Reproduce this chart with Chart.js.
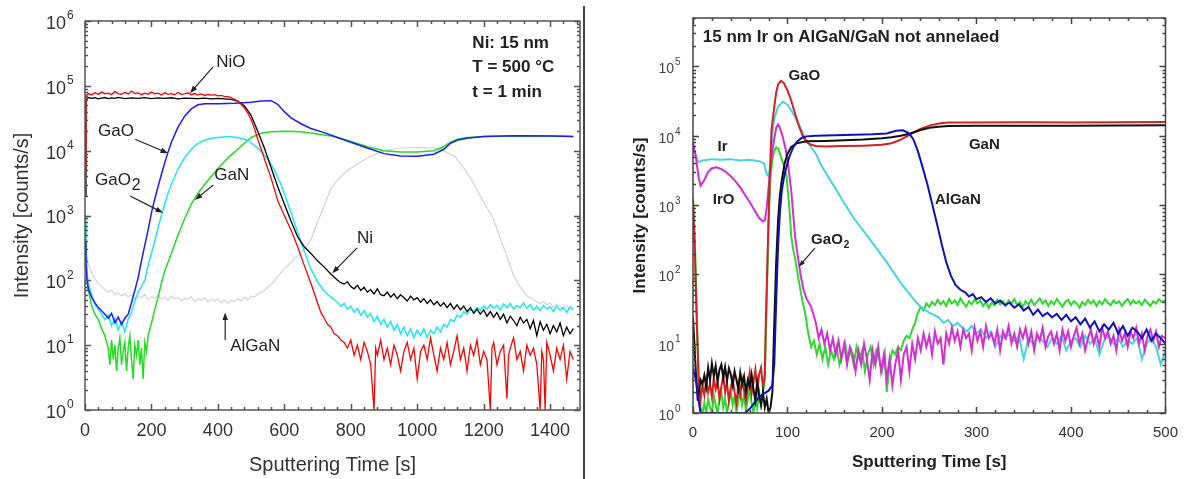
<!DOCTYPE html>
<html>
<head>
<meta charset="utf-8">
<script src="https://cdn.jsdelivr.net/npm/chart.js@4.4.1/dist/chart.umd.min.js"></script>
<style>
  body { margin: 0; background: #fff; }
  #wrap { position: relative; width: 1189px; height: 479px; overflow: hidden; }
  #left { position: absolute; left: 0; top: 0; }
  #right { position: absolute; left: 590px; top: 0; }
  #sep { position: absolute; left: 583px; top: 6px; width: 2px; height: 473px; background: #444; }
</style>
</head>
<body>
<div id="wrap">
  <canvas id="left" width="584" height="479"></canvas>
  <div id="sep"></div>
  <canvas id="right" width="599" height="479"></canvas>
</div>
<script>
// ---------- left panel: Ni 15 nm, 500 °C, 1 min  ([time s, counts/s]) ----------
const leftNiO = [[0,5000],[3,70000],[10,76000],[20,73000],[30,78000],[40,74000],[50,80000],[60,75000],[70,77000],[80,73000],[90,82000],[100,76000],[110,74000],[120,79000],[130,75000],[140,83000],[150,76000],[160,78000],[170,73000],[180,77000],[190,74000],[200,80000],[210,75000],[220,77000],[230,72000],[240,78000],[250,74000],[260,76000],[270,73000],[280,79000],[290,74000],[300,75000],[310,78000],[320,73000],[330,76000],[340,72000],[350,75000],[360,71000],[370,74000],[380,72000],[390,73000],[400,70000],[410,71000],[420,69000],[430,68000],[440,66000],[450,62000],[460,58000],[470,52000],[480,46000],[490,38000],[500,30000],[510,22000],[520,15000],[540,7500],[560,3800],[580,1700],[600,1000],[620,600],[640,330],[660,170],[680,90],[700,45],[710,32],[720,26],[730,21],[740,19],[750,15],[760,14],[770,12],[780,11],[790,9],[800,12],[810,7],[820,10],[830,6],[840,11],[850,8],[860,5],[870,1],[875,9],[880,7],[890,12],[900,6],[910,9],[920,5],[930,10],[940,7],[950,4],[960,8],[970,11],[980,6],[990,9],[1000,3],[1010,8],[1020,10],[1030,6],[1040,13],[1050,7],[1060,4],[1070,9],[1080,6],[1090,11],[1100,5],[1110,8],[1120,14],[1130,6],[1140,9],[1150,4],[1160,10],[1170,7],[1180,12],[1190,5],[1200,8],[1210,6],[1220,1],[1225,9],[1230,11],[1240,5],[1250,8],[1260,10],[1270,1.5],[1275,7],[1280,9],[1290,13],[1300,6],[1310,8],[1320,4],[1330,10],[1340,7],[1350,9],[1360,5],[1370,1],[1375,8],[1380,6],[1385,1],[1390,11],[1400,7],[1410,4],[1420,9],[1430,6],[1440,10],[1450,3],[1460,8],[1470,6]];
const leftNi = [[0,2000],[3,60000],[10,66000],[20,64000],[30,65500],[40,63000],[50,64500],[60,66000],[70,63500],[80,65000],[90,64000],[100,66500],[120,63500],[140,65000],[160,64000],[180,66000],[200,63500],[220,65000],[240,64000],[260,65500],[280,63000],[300,64500],[320,64000],[340,63500],[360,64500],[380,63000],[400,64000],[420,63000],[440,62000],[460,58000],[480,49000],[500,35000],[520,20000],[540,11000],[560,5500],[580,2800],[600,1500],[620,820],[640,470],[660,330],[680,260],[700,200],[720,160],[740,125],[760,100],[770,92],[780,88],[790,95],[800,80],[810,74],[820,84],[830,70],[840,78],[850,66],[860,72],[870,62],[880,74],[890,60],[900,58],[910,66],[920,55],[930,62],[940,52],[950,60],[960,54],[970,48],[980,57],[990,50],[1000,54],[1010,46],[1020,52],[1030,44],[1040,50],[1050,42],[1060,47],[1070,40],[1080,45],[1090,38],[1100,44],[1110,36],[1120,42],[1130,35],[1140,40],[1150,33],[1160,38],[1170,31],[1180,36],[1190,30],[1200,35],[1210,28],[1220,33],[1230,27],[1240,32],[1250,25],[1260,30],[1270,22],[1280,28],[1290,24],[1300,20],[1310,27],[1320,22],[1330,25],[1340,18],[1350,24],[1360,14],[1370,23],[1380,17],[1390,21],[1400,15],[1410,20],[1420,16],[1430,22],[1440,14],[1450,19],[1460,15],[1470,18]];
const leftGaO = [[0,400],[3,180],[6,100],[10,75],[20,55],[30,45],[40,38],[50,34],[60,30],[70,26],[80,31],[90,22],[100,27],[110,21],[120,26],[130,30],[140,45],[150,70],[160,110],[170,200],[180,350],[190,600],[200,1100],[210,1800],[220,2800],[230,4300],[240,6500],[250,9500],[260,13500],[280,23000],[300,34000],[320,44000],[340,51000],[360,53000],[400,53000],[450,54000],[500,56000],[530,58500],[560,59000],[580,52000],[600,40000],[620,32000],[650,26000],[680,22000],[720,19000],[760,16000],[800,13500],[850,11000],[900,9000],[950,8300],[1000,8200],[1050,8800],[1080,10500],[1100,13000],[1120,14500],[1150,15500],[1200,16500],[1300,17000],[1400,16800],[1470,16500]];
const leftGaO2 = [[0,1000],[3,300],[6,130],[10,90],[20,60],[30,42],[40,36],[50,30],[60,25],[70,29],[80,20],[90,26],[100,17],[110,23],[120,16],[130,25],[140,32],[150,48],[160,66],[170,80],[180,100],[190,170],[200,260],[210,400],[220,650],[230,1000],[240,1500],[250,2200],[260,3000],[280,5200],[300,7800],[320,10500],[340,13000],[360,14500],[380,15500],[400,16000],[430,16500],[460,16000],[490,14500],[520,11000],[550,7500],[570,5000],[590,3000],[600,2200],[620,1100],[640,550],[660,280],[680,150],[700,95],[720,68],[740,55],[760,46],[770,40],[780,44],[790,36],[800,40],[810,32],[820,37],[830,29],[840,34],[850,27],[860,31],[870,23],[880,28],[890,21],[900,25],[910,19],[920,23],[930,17],[940,21],[950,15],[960,19],[970,14],[980,18],[990,13],[1000,17],[1010,14],[1020,18],[1030,13],[1040,17],[1050,15],[1060,19],[1070,16],[1080,21],[1090,19],[1100,25],[1110,23],[1120,29],[1130,27],[1140,33],[1150,30],[1160,36],[1170,33],[1180,38],[1190,35],[1200,40],[1210,36],[1220,42],[1230,37],[1240,41],[1250,35],[1260,43],[1270,38],[1280,44],[1290,36],[1300,41],[1310,38],[1320,45],[1330,37],[1340,42],[1350,35],[1360,40],[1370,34],[1380,41],[1390,36],[1400,39],[1410,33],[1420,40],[1430,35],[1440,38],[1450,32],[1460,39],[1470,36]];
const leftGaN = [[0,800],[3,250],[6,110],[10,70],[20,40],[30,30],[40,25],[50,18],[60,14],[70,9],[75,5],[80,12],[85,6],[90,10],[95,4],[100,9],[105,13],[110,5],[115,8],[120,11],[125,4],[130,9],[135,14],[140,6],[145,3],[150,10],[155,7],[160,12],[165,5],[170,9],[175,3],[180,11],[185,8],[190,14],[200,22],[210,35],[220,55],[230,90],[240,140],[250,190],[260,260],[280,500],[300,900],[320,1500],[340,2200],[360,3000],[380,4000],[400,5300],[420,6800],[440,8600],[460,10500],[480,13000],[500,16000],[530,18500],[560,19500],[600,20000],[650,19500],[700,18000],[750,16500],[800,14000],[850,11500],[900,10000],[950,9500],[1000,9500],[1050,10000],[1080,11500],[1100,13500],[1120,15000],[1150,16000],[1200,16500],[1300,17000],[1400,16800],[1470,16500]];
const leftAlGaN = [[0,400],[5,250],[10,180],[20,130],[30,105],[40,90],[50,80],[60,72],[70,66],[80,70],[90,60],[100,64],[110,58],[120,62],[130,55],[140,60],[150,52],[160,58],[170,54],[180,61],[190,50],[200,56],[210,53],[220,59],[230,51],[240,55],[250,49],[260,57],[270,52],[280,55],[290,48],[300,53],[310,50],[320,56],[330,47],[340,52],[350,49],[360,54],[370,46],[380,51],[390,48],[400,52],[410,45],[420,50],[430,44],[440,49],[450,47],[460,52],[470,48],[480,55],[490,50],[500,57],[510,55],[520,62],[530,65],[540,70],[550,78],[560,85],[570,98],[580,115],[600,150],[620,190],[640,240],[660,300],[680,420],[700,800],[720,1400],[740,2600],[760,3500],[790,5000],[820,6300],[860,8200],[900,10000],[950,11000],[1000,11200],[1050,11000],[1080,10000],[1115,8000],[1145,5000],[1176,2750],[1200,1600],[1227,950],[1250,450],[1267,260],[1290,120],[1309,80],[1330,58],[1350,50],[1370,44],[1380,47],[1390,42],[1400,45],[1410,38],[1420,43],[1430,40],[1440,37],[1450,41],[1460,36],[1470,35]];

// ---------- right panel: 15 nm Ir on AlGaN/GaN ----------
const rightGaO = [[0,1200],[2,200],[4,20],[6,3],[8,1.5],[10,2.5],[12,1.8],[14,3],[16,2],[18,2.6],[20,1.7],[22,3.2],[24,2.2],[26,2.8],[28,1.6],[30,2.4],[32,3.5],[34,2],[36,2.7],[38,1.5],[40,2.3],[42,3.1],[44,2],[46,1.4],[48,2.6],[50,1.8],[52,3],[54,2.1],[56,1.5],[58,2.4],[60,3.8],[62,1.9],[64,2.8],[66,4.2],[68,2.2],[70,3.6],[72,4.5],[74,2.4],[76,3.5],[77,20],[79,200],[81,2000],[83,12000],[86,26000],[88,42000],[90,55000],[93,62000],[96,58000],[100,45000],[104,32000],[108,21000],[112,14000],[116,10000],[120,8200],[125,7400],[130,7100],[140,7000],[160,7100],[180,7200],[200,7400],[210,7800],[220,8800],[230,10500],[240,12500],[250,14000],[260,15000],[270,15500],[300,15500],[350,15600],[400,15500],[450,15600],[500,15800]];
const rightGaN = [[0,24],[3,4],[5,1.5],[8,3],[10,2.6],[12,3.5],[14,2.4],[16,4.5],[18,3],[20,5.2],[22,3.4],[24,4.8],[26,2.8],[28,4.2],[30,5],[32,3.2],[34,4.6],[36,2.9],[38,4.4],[40,3.6],[42,2.5],[44,4],[46,3],[48,2.2],[50,3.8],[52,2.6],[54,3.4],[56,2],[58,3],[60,2.4],[62,3.6],[64,2.2],[66,1.5],[68,2.8],[70,1.8],[72,1.3],[74,2],[76,1.2],[78,1.6],[80,1],[82,1.2],[84,2],[86,20],[88,150],[90,600],[92,1400],[94,2300],[97,4000],[100,5500],[104,6900],[110,7800],[120,8300],[140,8400],[160,8600],[180,8800],[200,9200],[210,9500],[220,10000],[230,10800],[240,12000],[250,13000],[260,13500],[270,13800],[300,14000],[400,14000],[500,14200]];
const rightAlGaN = [[0,4.5],[3,3],[6,1.5],[8,1],[10,1],[55,1],[60,1.15],[65,1.4],[70,1.7],[75,1.9],[80,2.1],[84,2.5],[86,5],[88,40],[90,250],[92,800],[94,1600],[96,2400],[98,3200],[102,5000],[106,6800],[110,8200],[115,9300],[120,9800],[130,10000],[150,10200],[170,10300],[190,10500],[205,10800],[215,11800],[222,12000],[228,11000],[233,9000],[238,6000],[243,3500],[248,2000],[253,1050],[258,550],[263,280],[268,150],[273,95],[278,70],[283,60],[288,55],[292,48],[296,52],[300,44],[305,47],[310,40],[315,45],[320,38],[325,42],[330,36],[335,39],[340,33],[345,37],[350,30],[355,34],[360,26],[365,31],[370,25],[375,28],[380,24],[385,27],[390,22],[395,26],[400,21],[405,24],[410,19],[415,23],[420,17],[425,21],[430,15],[435,19],[440,16],[445,20],[450,14],[455,18],[460,13],[465,17],[470,15],[475,12],[480,16],[485,11],[490,14],[495,12],[500,10]];
const rightIr = [[0,6000],[2,5800],[4,4500],[6,4200],[10,4400],[20,4600],[30,4500],[40,4600],[50,4400],[60,4500],[70,4300],[75,4000],[78,2800],[80,2600],[82,4000],[84,10000],[86,18000],[90,26000],[95,31000],[100,28000],[105,22000],[110,16500],[115,12000],[120,8500],[130,5500],[136,3700],[140,3000],[150,1800],[160,1070],[170,650],[185,350],[205,150],[220,75],[234,43],[240,35],[250,28],[260,24],[265,20],[270,22],[275,18],[280,20],[285,17],[290,15],[295,18],[300,14],[305,16],[310,12],[315,15],[320,9],[325,13],[330,12],[335,14],[340,11],[345,13],[350,6],[355,12],[360,10],[365,13],[370,11],[375,9],[380,12],[385,10],[390,13],[395,8],[400,11],[405,12],[410,9],[415,13],[420,10],[425,12],[430,7],[435,11],[440,13],[445,10],[450,12],[455,9],[460,11],[465,10],[470,12],[475,6],[480,10],[485,12],[490,9],[495,5],[500,8]];
const rightIrO = [[0,8000],[3,5000],[6,2500],[8,1900],[12,2300],[16,3000],[20,3400],[25,3500],[30,3300],[35,3000],[40,2600],[45,2200],[50,1800],[55,1400],[60,1100],[65,850],[70,650],[74,580],[76,600],[78,900],[80,1800],[82,3500],[84,6000],[86,9000],[88,13000],[90,14500],[92,13000],[95,9500],[98,6500],[101,3500],[104,1600],[108,350],[111,180],[114,95],[117,60],[120,45],[125,34],[130,20],[133,12],[136,16],[139,10],[142,14],[145,8],[148,12],[151,7],[154,11],[157,6],[160,10],[163,5],[166,9],[169,7],[172,4],[175,8],[178,5],[181,10],[184,6],[187,3],[190,8],[193,5],[196,9],[199,4],[202,7],[205,3],[208,6],[211,2.5],[214,5],[217,8],[220,3],[223,7],[226,9],[229,4],[232,10],[235,6],[238,12],[241,8],[244,14],[247,9],[250,13],[253,7],[256,15],[259,10],[262,12],[265,5],[268,14],[271,10],[274,17],[277,11],[280,15],[283,9],[286,16],[289,12],[292,14],[295,8],[298,17],[301,11],[304,15],[307,9],[310,18],[313,12],[316,14],[319,10],[322,16],[325,8],[328,15],[331,12],[334,18],[337,10],[340,14],[343,9],[346,16],[349,12],[352,17],[355,10],[358,15],[361,8],[364,14],[367,11],[370,17],[373,9],[376,13],[379,15],[382,10],[385,14],[388,8],[391,16],[394,11],[397,15],[400,9],[403,13],[406,17],[409,10],[412,14],[415,8],[418,12],[421,16],[424,10],[427,14],[430,9],[433,17],[436,12],[439,15],[442,10],[445,13],[448,8],[451,16],[454,11],[457,14],[460,9],[463,15],[466,12],[469,17],[472,10],[475,14],[478,8],[481,13],[484,16],[487,11],[490,15],[493,9],[496,13],[500,12]];
const rightGaO2 = [[0,1200],[2,300],[4,30],[6,3],[8,1.2],[10,1],[12,1.4],[14,1],[16,1.6],[18,1.2],[20,1],[22,1.8],[24,1.3],[26,1],[28,1.5],[30,2],[32,1.2],[34,1.6],[36,1],[38,1.4],[40,2.1],[42,1.3],[44,1.7],[46,1],[48,1.5],[50,2.2],[52,1.3],[54,1.8],[56,1.1],[58,1.6],[60,2.3],[62,1.4],[64,1],[66,1.8],[68,1.2],[70,2],[72,1.3],[74,1.9],[76,3],[78,40],[80,600],[82,2500],[84,4500],[86,6000],[88,6800],[90,6500],[93,5000],[96,3800],[99,2600],[102,900],[104,350],[106,230],[108,170],[112,80],[116,40],[119,26],[122,14],[125,9],[128,11],[131,7],[134,10],[137,6],[140,9],[143,5],[146,8],[149,6],[152,9],[155,5],[158,7],[161,10],[164,6],[167,8],[170,5],[173,9],[176,6],[179,8],[182,4],[185,7],[188,9],[191,5],[194,8],[197,6],[200,4],[203,7],[205,2],[208,5],[211,8],[214,7],[217,9],[220,8],[223,11],[226,13],[229,12],[232,16],[235,20],[238,28],[241,34],[244,30],[247,38],[250,34],[253,40],[256,36],[259,43],[262,37],[265,41],[268,35],[271,44],[274,38],[277,42],[280,36],[283,45],[286,39],[289,34],[292,41],[295,37],[298,44],[301,38],[304,42],[307,35],[310,40],[313,33],[316,39],[319,36],[322,43],[325,37],[328,41],[331,35],[334,42],[337,38],[340,44],[343,36],[346,40],[349,34],[352,41],[355,37],[358,43],[361,36],[364,40],[367,45],[370,38],[373,42],[376,35],[379,41],[382,37],[385,44],[388,39],[391,34],[394,40],[397,43],[400,36],[403,41],[406,38],[409,33],[412,40],[415,36],[418,43],[421,38],[424,42],[427,35],[430,41],[433,37],[436,44],[439,39],[442,36],[445,42],[448,38],[451,41],[454,35],[457,40],[460,44],[463,37],[466,42],[469,38],[472,41],[475,36],[478,43],[481,39],[484,35],[487,41],[490,38],[493,44],[496,40],[500,42]];

const pts = arr => arr.map(p => ({ x: p[0], y: p[1] }));

// inside tick marks on all four sides + frame
const frameTicks = {
  id: 'frameTicks',
  afterDatasetsDraw(chart, args, o) {
    const { ctx, chartArea: a, scales: { x, y } } = chart;
    ctx.save();
    ctx.strokeStyle = o.color;
    ctx.lineWidth = o.width;
    ctx.strokeRect(a.left, a.top, a.right - a.left, a.bottom - a.top);
    ctx.beginPath();
    for (let t = x.min; t <= x.max + 1e-6; t += o.xMinor) {
      const px = Math.round(x.getPixelForValue(t)) + 0.5;
      const len = Math.round(t) % o.xMajor === 0 ? o.major : o.minor;
      ctx.moveTo(px, a.bottom); ctx.lineTo(px, a.bottom - len);
      ctx.moveTo(px, a.top); ctx.lineTo(px, a.top + len);
    }
    const k0 = Math.round(Math.log10(y.min)), k1 = Math.round(Math.log10(y.max));
    for (let k = k0; k <= k1; k++) {
      for (let m = 1; m <= 9; m++) {
        const v = m * Math.pow(10, k);
        if (v < y.min || v > y.max * 1.0001) continue;
        const py = Math.round(y.getPixelForValue(v)) + 0.5;
        const len = m === 1 ? o.major : o.minor;
        ctx.moveTo(a.left, py); ctx.lineTo(a.left + len, py);
        ctx.moveTo(a.right, py); ctx.lineTo(a.right - len, py);
      }
    }
    ctx.stroke();
    ctx.restore();
  }
};

// "10^n" labels on the log axis
const decadeLabels = {
  id: 'decadeLabels',
  afterDraw(chart, args, o) {
    const { ctx, scales: { y } } = chart;
    ctx.save();
    ctx.fillStyle = o.color;
    ctx.textBaseline = 'middle';
    for (let k = o.from; k <= o.to; k++) {
      const py = y.getPixelForValue(Math.pow(10, k));
      ctx.font = o.font;
      ctx.textAlign = 'right';
      ctx.fillText('10', o.x, py + o.dy);
      ctx.font = o.expFont;
      ctx.textAlign = 'left';
      ctx.fillText(String(k), o.x + 1, py + o.expDy);
    }
    ctx.restore();
  }
};

// text labels and arrows placed in data coordinates
const notes = {
  id: 'notes',
  afterDatasetsDraw(chart, args, o) {
    const { ctx, scales: { x, y } } = chart;
    ctx.save();
    (o.arrows || []).forEach(ar => {
      const x0 = x.getPixelForValue(ar.from[0]), y0 = y.getPixelForValue(ar.from[1]);
      const x1 = x.getPixelForValue(ar.to[0]), y1 = y.getPixelForValue(ar.to[1]);
      const ang = Math.atan2(y1 - y0, x1 - x0), h = o.head;
      ctx.strokeStyle = o.arrowColor; ctx.fillStyle = o.arrowColor; ctx.lineWidth = 1.2;
      ctx.beginPath(); ctx.moveTo(x0, y0);
      ctx.lineTo(x1 - h * 0.8 * Math.cos(ang), y1 - h * 0.8 * Math.sin(ang)); ctx.stroke();
      ctx.beginPath(); ctx.moveTo(x1, y1);
      ctx.lineTo(x1 - h * Math.cos(ang - 0.35), y1 - h * Math.sin(ang - 0.35));
      ctx.lineTo(x1 - h * Math.cos(ang + 0.35), y1 - h * Math.sin(ang + 0.35));
      ctx.closePath(); ctx.fill();
    });
    ctx.textBaseline = 'middle';
    ctx.textAlign = 'left';
    (o.labels || []).forEach(l => {
      const px = x.getPixelForValue(l.at[0]), py = y.getPixelForValue(l.at[1]);
      ctx.font = l.font || o.font;
      ctx.fillStyle = o.color;
      ctx.fillText(l.text, px, py);
      if (l.sub) {
        const w = ctx.measureText(l.text).width;
        ctx.font = o.subFont;
        ctx.fillText(l.sub, px + w + 1, py + o.subDy);
      }
    });
    ctx.restore();
  }
};

function line(data, color, width) {
  return { data: pts(data), borderColor: color, borderWidth: width, pointRadius: 0, tension: 0, fill: false };
}

function makeChart(id, cfg) {
  return new Chart(document.getElementById(id), {
    type: 'line',
    data: { datasets: cfg.datasets },
    options: {
      responsive: false,
      animation: false,
      events: [],
      layout: { padding: cfg.padding },
      plugins: {
        legend: { display: false },
        tooltip: { enabled: false },
        frameTicks: cfg.frame,
        decadeLabels: cfg.decades,
        notes: cfg.notes
      },
      scales: {
        x: {
          type: 'linear', min: 0, max: cfg.xMax,
          grid: { display: false, drawTicks: false }, border: { display: false },
          afterBuildTicks: s => {
            const t = [];
            for (let v = 0; v <= cfg.xMax; v += cfg.xStep) t.push({ value: v });
            s.ticks = t;
          },
          afterFit: s => { s.height = cfg.xHeight; },
          ticks: { stepSize: cfg.xStep, autoSkip: false, padding: cfg.xPad, color: cfg.tickColor, font: cfg.xFont, maxRotation: 0, callback: v => String(v) },
          title: { display: true, text: 'Sputtering Time [s]', color: cfg.titleColor, font: cfg.titleFont, padding: { top: 0, bottom: cfg.xTitleBottom } }
        },
        y: {
          type: 'logarithmic', min: 1, max: cfg.yMax,
          grid: { display: false, drawTicks: false }, border: { display: false },
          ticks: { display: false },
          afterFit: s => { s.width = cfg.yWidth; },
          title: { display: true, text: 'Intensity [counts/s]', color: cfg.titleColor, font: cfg.titleFont, padding: { top: cfg.yTitleLeft, bottom: 0 } }
        }
      }
    },
    plugins: [frameTicks, decadeLabels, notes]
  });
}

Chart.defaults.font.family = '"Liberation Sans", Arial, sans-serif';

makeChart('left', {
  datasets: [
    line(leftNiO, '#ff0000', 1.3),
    line(leftNi, '#000000', 1.3),
    line(leftGaO, '#1c1cff', 1.5),
    line(leftGaO2, '#1ee8f2', 1.5),
    line(leftGaN, '#22dd22', 1.5),
    line(leftAlGaN, '#d4d4d4', 1.2)
  ],
  padding: { top: 21, right: 4, left: 0, bottom: 0 },
  xMax: 1490, xStep: 200, xHeight: 69, xPad: 10, xTitleBottom: 2,
  xFont: { size: 18 }, tickColor: '#333',
  yMax: 1e6, yWidth: 85, yTitleLeft: 10,
  titleColor: '#333', titleFont: { size: 20 },
  frame: { color: '#555', width: 1.5, xMinor: 40, xMajor: 200, major: 6, minor: 3 },
  decades: { from: 0, to: 6, x: 66, dy: 3, expDy: -5, font: '18px "Liberation Sans", Arial', expFont: '12px "Liberation Sans", Arial', color: '#333' },
  notes: {
    font: '17px "Liberation Sans", Arial', color: '#222', subFont: '16px "Liberation Sans", Arial', subDy: 5,
    arrowColor: '#222', head: 8,
    labels: [
      { text: 'NiO', at: [395, 2.34e5] },
      { text: 'GaO', at: [39, 2.0e4] },
      { text: 'GaO', sub: '2', at: [30, 3.5e3] },
      { text: 'GaN', at: [389, 4.2e3] },
      { text: 'Ni', at: [819, 450] },
      { text: 'AlGaN', at: [437, 9.5] },
      { text: 'Ni: 15 nm', at: [1166, 4.6e5], font: 'bold 17px "Liberation Sans", Arial' },
      { text: 'T = 500 \u00b0C', at: [1166, 1.95e5], font: 'bold 17px "Liberation Sans", Arial' },
      { text: 't = 1 min', at: [1166, 7.9e4], font: 'bold 17px "Liberation Sans", Arial' }
    ],
    arrows: [
      { from: [385, 1.95e5], to: [316, 7.7e4] },
      { from: [151, 1.5e4], to: [250, 9.1e3] },
      { from: [136, 2.0e3], to: [235, 1.1e3] },
      { from: [386, 2.95e3], to: [331, 1.74e3] },
      { from: [819, 316], to: [744, 129] },
      { from: [422, 12], to: [422, 32] }
    ]
  }
});

makeChart('right', {
  datasets: [
    line(rightAlGaN, '#1010b8', 2),
    line(rightGaN, '#111111', 2),
    line(rightGaO, '#d42222', 2),
    line(rightIrO, '#d22ed2', 2),
    line(rightIr, '#44d6e0', 2),
    line(rightGaO2, '#2ed82e', 2)
  ],
  padding: { top: 18, right: 17, left: 0, bottom: 0 },
  xMax: 500, xStep: 100, xHeight: 66, xPad: 11, xTitleBottom: 6,
  xFont: { size: 15 }, tickColor: '#333',
  yMax: 5e5, yWidth: 103, yTitleLeft: 40,
  titleColor: '#222', titleFont: { size: 17, weight: 'bold' },
  frame: { color: '#444', width: 1.5, xMinor: 20, xMajor: 100, major: 6, minor: 3 },
  decades: { from: 0, to: 5, x: 84, dy: 3, expDy: -4, font: '14px "Liberation Sans", Arial', expFont: '10px "Liberation Sans", Arial', color: '#444' },
  notes: {
    font: 'bold 15px "Liberation Sans", Arial', color: '#222', subFont: 'bold 10px "Liberation Sans", Arial', subDy: 5,
    arrowColor: '#222', head: 7,
    labels: [
      { text: '15 nm Ir on AlGaN/GaN not annelaed', at: [10.4, 2.6e5], font: 'bold 17px "Liberation Sans", Arial' },
      { text: 'GaO', at: [101, 7.2e4] },
      { text: 'Ir', at: [26, 6.9e3] },
      { text: 'IrO', at: [21, 1.2e3] },
      { text: 'GaO', sub: '2', at: [125, 310] },
      { text: 'GaN', at: [292, 7.4e3] },
      { text: 'AlGaN', at: [256, 1.2e3] }
    ],
    arrows: [
      { from: [129, 240], to: [112, 129] }
    ]
  }
});
</script>
</body>
</html>
